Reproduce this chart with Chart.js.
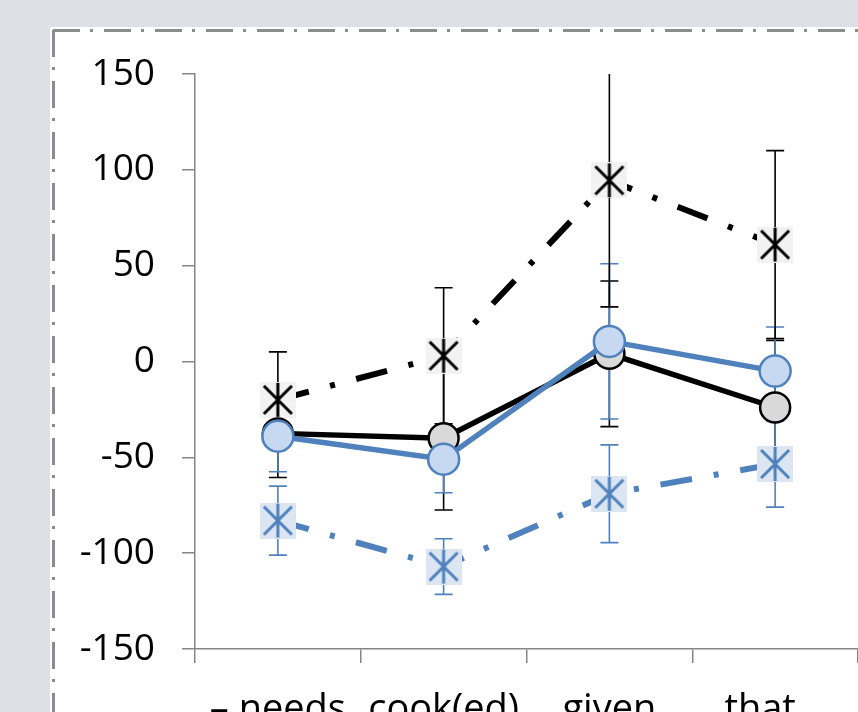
<!DOCTYPE html>
<html>
<head>
<meta charset="utf-8">
<script src="https://cdn.jsdelivr.net/npm/chart.js@4.4.1/dist/chart.umd.min.js"></script>
<style>
  html, body { margin: 0; padding: 0; background: #dfe0e6; overflow: hidden; }
  canvas { display: block; }
</style>
</head>
<body>
<canvas id="c" width="858" height="712"></canvas>
<script>
// Categories along the x axis
const categories = ['– needs', 'cook(ed)', 'given', 'that...'];
// Y axis tick values
const yTicks = [-150, -100, -50, 0, 50, 100, 150];

// Black dash-dot series (star markers)
const starBlack = [-20, 3, 94.5, 61];
const starBlackErr = [25, 35.5, 66, 49];
// Black solid series (grey circles)
const circleBlack = [-37.5, -40, 4, -24];
const circleBlackErr = [23, 37.5, 38, 35];
// Blue solid series (light blue circles)
const circleBlue = [-39, -51, 10.5, -5];
const circleBlueErr = [18.5, 17.5, 40.5, 23];
// Blue dash-dot series (star markers)
const starBlue = [-83, -107, -69, -53.5];
const starBlueErr = [18, 14.5, 25.5, 22.5];

const BLUE = '#4f81bd';

function starMarker(stroke, fill) {
  const s = 36;
  const cv = document.createElement('canvas');
  cv.width = s; cv.height = s;
  const g = cv.getContext('2d');
  g.fillStyle = fill;
  g.fillRect(0, 0, s, s);
  g.strokeStyle = stroke;
  g.lineWidth = 3;
  g.beginPath();
  g.moveTo(4, 4); g.lineTo(s - 4, s - 4);
  g.moveTo(s - 4, 4); g.lineTo(4, s - 4);
  g.moveTo(s / 2, 1); g.lineTo(s / 2, s - 1);
  g.stroke();
  return cv;
}

// Page background and the dash-dot frame of the chart panel
const panelPlugin = {
  id: 'panel',
  beforeDraw(chart) {
    const ctx = chart.ctx;
    ctx.save();
    ctx.fillStyle = '#dfe0e6';
    ctx.fillRect(0, 0, chart.width, chart.height);
    ctx.fillStyle = '#ffffff';
    ctx.fillRect(50, 27, chart.width - 50, chart.height - 27);
    ctx.strokeStyle = '#8c8c8c';
    ctx.lineWidth = 3;
    ctx.setLineDash([27, 10, 3, 11]);
    ctx.beginPath();
    ctx.moveTo(53, 30.5); ctx.lineTo(chart.width, 30.5);
    ctx.moveTo(53.5, 30); ctx.lineTo(53.5, chart.height);
    ctx.stroke();
    ctx.restore();
  }
};

// Vertical error bars with caps, drawn beneath all lines and markers
const errorBarPlugin = {
  id: 'errorBars',
  beforeDatasetsDraw(chart) {
    const ctx = chart.ctx;
    const y = chart.scales.y;
    const area = chart.chartArea;
    const drawOrder = [1, 2, 0, 3];
    ctx.save();
    drawOrder.forEach(di => {
      const ds = chart.data.datasets[di];
      const meta = chart.getDatasetMeta(di);
      ctx.strokeStyle = ds.errColor;
      ctx.lineWidth = 1.6;
      ds.data.forEach((v, i) => {
        const e = ds.errors[i];
        const x = meta.data[i].x;
        const yt = y.getPixelForValue(v + e);
        const yb = y.getPixelForValue(v - e);
        const top = Math.max(yt, area.top);
        const bot = Math.min(yb, area.bottom);
        ctx.beginPath();
        ctx.moveTo(x, top); ctx.lineTo(x, bot);
        if (yt >= area.top) { ctx.moveTo(x - 9, yt); ctx.lineTo(x + 9, yt); }
        if (yb <= area.bottom) { ctx.moveTo(x - 9, yb); ctx.lineTo(x + 9, yb); }
        ctx.stroke();
      });
    });
    ctx.restore();
  }
};

const family = '"Open Sans", "DejaVu Sans", sans-serif';

new Chart(document.getElementById('c'), {
  type: 'line',
  data: {
    labels: categories,
    datasets: [
      {
        data: starBlack, errors: starBlackErr, errColor: '#000000',
        borderColor: '#000000', borderWidth: 6, borderDash: [32, 22, 5, 22],
        pointStyle: starMarker('#000000', '#f2f2f2'), pointRadius: 18,
        order: 4
      },
      {
        data: circleBlack, errors: circleBlackErr, errColor: '#000000',
        borderColor: '#000000', borderWidth: 5.5,
        pointStyle: 'circle', pointRadius: 15, pointBorderWidth: 2.5,
        pointBackgroundColor: '#d9d9d9', pointBorderColor: '#000000',
        order: 3
      },
      {
        data: circleBlue, errors: circleBlueErr, errColor: BLUE,
        borderColor: BLUE, borderWidth: 5.5,
        pointStyle: 'circle', pointRadius: 15.5, pointBorderWidth: 2.5,
        pointBackgroundColor: '#c6d9f0', pointBorderColor: BLUE,
        order: 2
      },
      {
        data: starBlue, errors: starBlueErr, errColor: BLUE,
        borderColor: BLUE, borderWidth: 6, borderDash: [32, 22, 5, 22],
        pointStyle: starMarker(BLUE, '#dce6f2'), pointRadius: 18,
        order: 1
      }
    ]
  },
  options: {
    responsive: false,
    animation: false,
    devicePixelRatio: 1,
    layout: { autoPadding: false, padding: { left: 0, top: 74, right: 0, bottom: 0 } },
    plugins: { legend: { display: false }, tooltip: { enabled: false } },
    elements: { line: { tension: 0, borderCapStyle: 'butt' } },
    scales: {
      x: {
        type: 'category',
        offset: true,
        grid: { offset: true, drawOnChartArea: false, drawTicks: true, tickLength: 14, color: '#868686', lineWidth: 1.5 },
        border: { color: '#868686', width: 1.5 },
        ticks: { color: '#000000', font: { family, size: 38 }, padding: 24, maxRotation: 0, autoSkip: false },
        afterFit(scale) {
          scale.height = 63;
          scale.paddingLeft = 0;
          scale.paddingRight = 0;
        }
      },
      y: {
        min: -150, max: 150,
        afterBuildTicks(scale) { scale.ticks = yTicks.map(v => ({ value: v })); },
        grid: { drawOnChartArea: false, drawTicks: true, tickLength: 13, color: '#868686', lineWidth: 1.5 },
        border: { color: '#868686', width: 1.5 },
        ticks: { color: '#000000', font: { family, size: 37 }, padding: 27 },
        afterFit(scale) { scale.width = 195; }
      }
    }
  },
  plugins: [panelPlugin, errorBarPlugin]
});
</script>
</body>
</html>
